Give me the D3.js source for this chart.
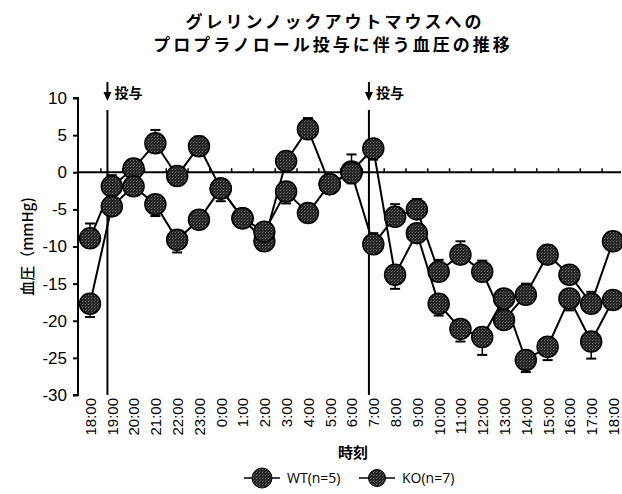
<!DOCTYPE html>
<html>
<head>
<meta charset="utf-8">
<script src="https://cdn.jsdelivr.net/npm/d3@7"></script>
<style>
  body { margin: 0; background: #fff; }
  text { fill: #000; }
</style>
</head>
<body>
<div id="container"></div>
<script>
let w = 622;
let h = 494;

// DATA
let timeLabels = ["18:00","19:00","20:00","21:00","22:00","23:00","0:00","1:00","2:00","3:00","4:00","5:00","6:00",
                  "7:00","8:00","9:00","10:00","11:00","12:00","13:00","14:00","15:00","16:00","17:00","18:00"];
let wtValues = [-8.9,-1.9,0.5,3.9,-0.5,3.5,-2.2,-6.2,-9.3,1.5,5.8,-1.6,0.1,
                3.2,-13.8,-8.2,-17.7,-21.1,-22.2,-17.0,-25.3,-23.5,-17.0,-22.8,-17.2];
// error bar length, sign = direction drawn (+ up, - down)
let wtErr = [2.0,1.5,0.8,1.8,-0.8,1.3,0.8,0.8,-1.0,1.0,1.5,1.0,2.3,
             -1.5,-1.9,1.0,-1.6,-1.7,-2.4,-1.5,-1.6,-1.8,-1.6,-2.3,1.0];
let koValues = [-17.7,-4.6,-1.9,-4.3,-9.1,-6.4,-2.2,-6.2,-8.0,-2.6,-5.5,-1.6,-0.1,
                -9.7,-6.0,-5.0,-13.4,-11.1,-13.4,-19.9,-16.5,-11.1,-13.8,-17.7,-9.3];
let koErr = [-1.8,1.0,1.0,-1.6,-1.7,0.8,-1.7,0.8,1.0,-1.6,1.0,1.0,-1.4,
             1.5,1.7,1.4,1.6,1.8,1.5,1.5,1.5,1.3,1.0,1.6,1.0];
let yTicks = [10,5,0,-5,-10,-15,-20,-25,-30];
let doseAt = [0.8, 12.8];   // where the dose lines sit on the time index
let seriesNames = ["WT(n=5)", "KO(n=7)"];

let jp = "'Noto Sans CJK JP', sans-serif";
let lat = "'Liberation Sans', Arial, sans-serif";

let viz = d3.select("#container").append("svg")
    .attr("width", w)
    .attr("height", h)
    .style("background-color", "white");

let xScale = d3.scaleLinear().domain([0, timeLabels.length - 1]).range([90, 613]);
let yScale = d3.scaleLinear().domain([-30, 10]).range([395, 98]);

let defs = viz.append("defs");

// speckled grey fill like the scanned markers
let pat = defs.append("pattern")
    .attr("id", "speckle")
    .attr("width", 3).attr("height", 3)
    .attr("patternUnits", "userSpaceOnUse");
pat.append("rect").attr("width", 3).attr("height", 3).attr("fill", "#252525");
pat.append("rect").attr("x", 1).attr("y", 1).attr("width", 1).attr("height", 1).attr("fill", "#707070");
pat.append("rect").attr("x", 2).attr("y", 0).attr("width", 1).attr("height", 1).attr("fill", "#4a4a4a");

// TITLE
viz.append("text")
    .attr("x", 335).attr("y", 28)
    .attr("text-anchor", "middle")
    .style("font-family", jp).style("font-size", "17px").style("font-weight", "bold")
    .style("letter-spacing", "3px")
    .text("グレリンノックアウトマウスへの");
viz.append("text")
    .attr("x", 333).attr("y", 51)
    .attr("text-anchor", "middle")
    .style("font-family", jp).style("font-size", "17px").style("font-weight", "bold")
    .style("letter-spacing", "3px")
    .text("プロプラノロール投与に伴う血圧の推移");

// Y AXIS
let yAxis = d3.axisLeft(yScale).tickValues(yTicks).tickSize(5).tickPadding(6)
    .tickFormat(function(d){ return String(d); });
let yG = viz.append("g")
    .attr("transform", "translate(78,0)")
    .call(yAxis);
yG.select(".domain").attr("d", "M-5," + yScale(10) + "H0V" + yScale(-30) + "H-5")
    .attr("stroke", "black").attr("stroke-width", 2);
yG.selectAll(".tick line").attr("stroke-width", 2);
yG.selectAll("text")
    .style("font-family", lat).style("font-size", "17px");

viz.append("text")
    .attr("transform", "translate(33," + yScale(-10) + ") rotate(-90)")
    .attr("text-anchor", "middle")
    .style("font-family", jp).style("font-size", "15px").style("font-weight", "500")
    .text("血圧（mmHg)");

// ZERO LINE with small ticks between hours
viz.append("line")
    .attr("x1", 78).attr("x2", 621)
    .attr("y1", yScale(0)).attr("y2", yScale(0))
    .attr("stroke", "black").attr("stroke-width", 2);
viz.selectAll(".zeroTick").data(d3.range(timeLabels.length - 1)).enter()
    .append("line")
    .attr("class", "zeroTick")
    .attr("x1", function(d){ return xScale(d + 0.5); })
    .attr("x2", function(d){ return xScale(d + 0.5); })
    .attr("y1", yScale(0)).attr("y2", yScale(0) - 4)
    .attr("stroke", "black").attr("stroke-width", 1.5);

// X LABELS (rotated)
let xAxis = d3.axisBottom(xScale)
    .tickValues(d3.range(timeLabels.length))
    .tickFormat(function(d){ return timeLabels[d]; })
    .tickSize(0);
let xG = viz.append("g")
    .attr("transform", "translate(0,396)")
    .call(xAxis);
xG.select(".domain").remove();
xG.selectAll("text")
    .attr("transform", "rotate(-90)")
    .attr("x", -2).attr("y", 0).attr("dy", "0.36em")
    .attr("text-anchor", "end")
    .style("font-family", lat).style("font-size", "15px");

viz.append("text")
    .attr("x", 353).attr("y", 458)
    .attr("text-anchor", "middle")
    .style("font-family", jp).style("font-size", "15px").style("font-weight", "bold")
    .text("時刻");

// DOSE LINES + ARROWS
viz.selectAll(".dose").data(doseAt).enter()
    .append("line")
    .attr("class", "dose")
    .attr("x1", function(d){ return xScale(d); })
    .attr("x2", function(d){ return xScale(d); })
    .attr("y1", 110).attr("y2", yScale(-30))
    .attr("stroke", "black").attr("stroke-width", 2);
viz.selectAll(".doseArrow").data(doseAt).enter()
    .append("line")
    .attr("class", "doseArrow")
    .attr("x1", function(d){ return xScale(d); })
    .attr("x2", function(d){ return xScale(d); })
    .attr("y1", 82).attr("y2", 94)
    .attr("stroke", "black").attr("stroke-width", 2);
viz.selectAll(".doseHead").data(doseAt).enter()
    .append("path")
    .attr("class", "doseHead")
    .attr("d", function(d){
      let x = xScale(d);
      return "M" + (x - 4) + ",92L" + (x + 4) + ",92L" + x + ",101Z";
    })
    .attr("fill", "black");
viz.selectAll(".doseText").data(doseAt).enter()
    .append("text")
    .attr("class", "doseText")
    .attr("x", function(d){ return xScale(d) + 7; })
    .attr("y", 98)
    .style("font-family", jp).style("font-size", "14px").style("font-weight", "bold")
    .text("投与");

// LINES
let lineMaker = d3.line()
    .x(function(d, i){ return xScale(i); })
    .y(function(d){ return yScale(d); });

let allSeries = [
  {name: seriesNames[0], values: wtValues, err: wtErr, r: 10.5},
  {name: seriesNames[1], values: koValues, err: koErr, r: 10.5}
];

allSeries.forEach(function(s){
  viz.append("path")
      .attr("d", lineMaker(s.values))
      .attr("fill", "none")
      .attr("stroke", "black")
      .attr("stroke-width", 2);
});

// ERROR BARS
allSeries.forEach(function(s){
  let g = viz.append("g");
  s.values.forEach(function(v, i){
    let x = xScale(i);
    let yEnd = yScale(v + s.err[i]);
    g.append("line")
      .attr("x1", x).attr("x2", x)
      .attr("y1", yScale(v)).attr("y2", yEnd)
      .attr("stroke", "black").attr("stroke-width", 1.5);
    g.append("line")
      .attr("x1", x - 5).attr("x2", x + 5)
      .attr("y1", yEnd).attr("y2", yEnd)
      .attr("stroke", "black").attr("stroke-width", 2);
  });
});

// POINTS
allSeries.forEach(function(s){
  viz.selectAll(null).data(s.values).enter()
    .append("circle")
    .attr("cx", function(d, i){ return xScale(i); })
    .attr("cy", function(d){ return yScale(d); })
    .attr("r", s.r)
    .attr("fill", "url(#speckle)")
    .attr("stroke", "#000")
    .attr("stroke-width", 1.5);
});

// LEGEND
let legendX = [262, 377];
allSeries.forEach(function(s, i){
  let lx = legendX[i];
  let ly = 478;
  viz.append("line")
    .attr("x1", lx - 18).attr("x2", lx + 18)
    .attr("y1", ly).attr("y2", ly)
    .attr("stroke", "black").attr("stroke-width", 1.5);
  viz.append("circle")
    .attr("cx", lx).attr("cy", ly)
    .attr("r", i == 0 ? 10 : 8.5)
    .attr("fill", "url(#speckle)").attr("stroke", "#000");
  viz.append("text")
    .attr("x", lx + 25).attr("y", ly + 5)
    .style("font-family", "'Open Sans', sans-serif").style("font-size", "14px")
    .text(s.name);
});
</script>
</body>
</html>
